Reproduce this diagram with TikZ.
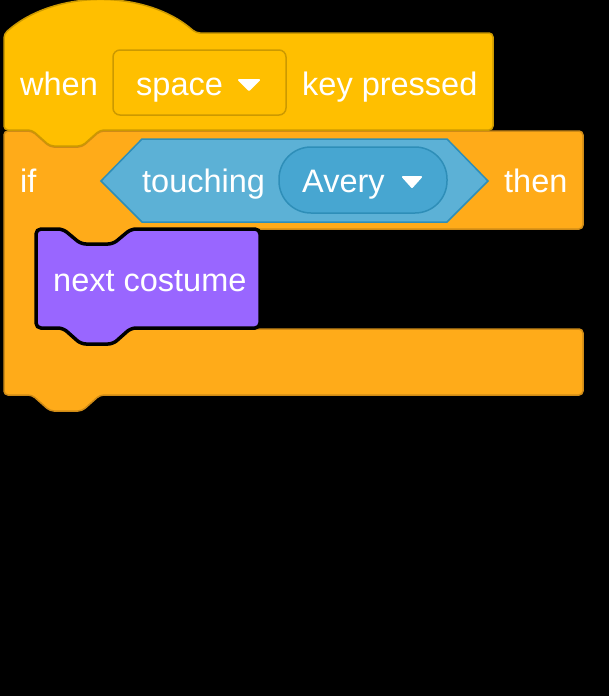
\documentclass[tikz,border=0pt]{standalone}
\usepackage{fontspec}
\setmainfont{Liberation Sans}
\definecolor{hatfill}{HTML}{FFBF00}
\definecolor{hatline}{HTML}{CC9900}
\definecolor{ctlfill}{HTML}{FFAB19}
\definecolor{ctlline}{HTML}{CF8B17}
\definecolor{lookfill}{HTML}{9966FF}
\definecolor{senfill}{HTML}{5CB1D6}
\definecolor{sendark}{HTML}{47A6D1}
\definecolor{senline}{HTML}{2E8EB8}
\tikzset{
  blocktext/.style={text=white, inner sep=0pt, anchor=base west, font=\fontsize{32.5}{38}\selectfont},
  arrowtri/.style={fill=white, draw=white, line width=2pt, line join=round},
}
\begin{document}
\begin{tikzpicture}[x=1pt,y=-1pt]
\useasboundingbox (0,0) rectangle (609,696);
\fill[black] (0,0) rectangle (609,696);
% if block
\draw[fill=ctlfill, draw=ctlline, line width=1.5pt, rounded corners=4pt]
  (4,131) -- (32,131) -- (50,147) -- (82,147) -- (100,131) -- (583,131) -- (583,229)
  -- (131,229) -- (113,245) -- (81,245) -- (63,229) -- (36,229) -- (36,329)
  -- (583,329) -- (583,395) -- (100,395) -- (82,411) -- (50,411) -- (32,395)
  -- (4,395) -- cycle;
% hat block
\draw[fill=hatfill, draw=hatline, line width=1.5pt, rounded corners=4pt]
  (4,34) .. controls (54,-11) and (146,-11) .. (196,33) -- (493,33) -- (493,130)
  -- (100,130) -- (82,146) -- (50,146) -- (32,130) -- (4,130) -- cycle;
% space dropdown
\draw[fill=hatfill, draw=hatline, line width=1.5pt, rounded corners=7pt]
  (113,50) rectangle (286,115);
\draw[arrowtri] (239,80) -- (259,80) -- (249,90) -- cycle;
% touching boolean
\draw[fill=senfill, draw=senline, line width=1.5pt]
  (101,181) -- (142,139) -- (447,139) -- (488,181) -- (447,222) -- (142,222) -- cycle;
\draw[fill=sendark, draw=senline, line width=1.5pt, rounded corners=32pt]
  (279,147) rectangle (447,213);
\draw[arrowtri] (403,177) -- (421,177) -- (412,187) -- cycle;
% next costume
\draw[fill=lookfill, draw=black, line width=3.5pt, rounded corners=5pt]
  (36,229) -- (63,229) -- (81,244) -- (113,244) -- (131,229) -- (260,229) -- (260,328)
  -- (131,328) -- (113,344) -- (81,344) -- (63,328) -- (36,328) -- cycle;
% texts
\node[blocktext] (when) at (20,95) {when};
\node[blocktext] (space) at (136,95) {space};
\node[blocktext] (key) at (302,95) {key pressed};
\node[blocktext] (if) at (20,192) {if};
\node[blocktext] (touching) at (142,192) {touching};
\node[blocktext] (avery) at (302,192) {Avery};
\node[blocktext] (then) at (504,192) {then};
\node[blocktext] (next) at (53,291) {next costume};
\end{tikzpicture}
\end{document}
